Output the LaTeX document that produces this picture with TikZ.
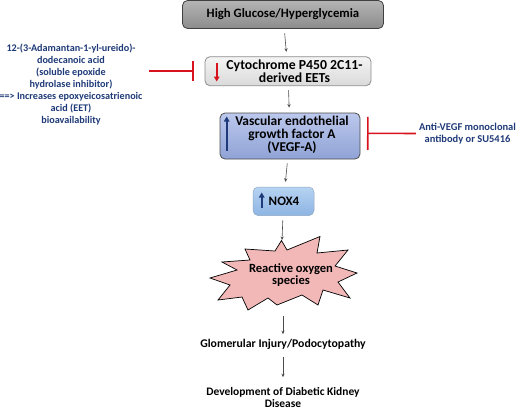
\documentclass[tikz,border=0pt]{standalone}
\usepackage{fontspec}
\setmainfont{Carlito}
\usetikzlibrary{arrows.meta}

\definecolor{navy}{HTML}{1F3A78}
\definecolor{inhred}{HTML}{D7141E}
\definecolor{hgtop}{HTML}{B4B4B4}
\definecolor{hgbot}{HTML}{8C8C8C}
\definecolor{cyttop}{HTML}{F4F4F4}
\definecolor{cytbot}{HTML}{DADADA}
\definecolor{vegftop}{HTML}{BCC8EC}
\definecolor{vegfbot}{HTML}{90A3D6}
\definecolor{noxtop}{HTML}{B6D3F2}
\definecolor{noxbot}{HTML}{8DB4E3}
\definecolor{rosfill}{HTML}{F2B8B8}

\tikzset{
	rbox/.style={rounded corners=5bp, line width=0.8bp},
	flow/.style={draw=black!70, line width=0.6bp, -{Stealth[length=3.5bp,width=3.2bp]}},
	inhib/.style={draw=inhred, line width=1.6bp, -{Bar[width=#1]}},
	updown/.style={line width=1.8bp, -{Triangle[length=5bp,width=5.5bp]}},
	txt/.style={align=center, inner sep=0pt, font=\bfseries\fontsize{#1}{#1}\selectfont}
}

\begin{document}
\begin{tikzpicture}[x=1bp, y=-1bp]
	\useasboundingbox (0,0) rectangle (520,410);

	% boxes
	\node[rbox, draw=black!75, top color=hgtop, bottom color=hgbot, minimum width=201bp, minimum height=28bp,
		txt=12.8] (hg) at (283,14.5) {High Glucose/Hyperglycemia};
	\node[rbox, draw=black!45, top color=cyttop, bottom color=cytbot, minimum width=166bp, minimum height=29bp] (cyt) at (288,71.2) {};
	\node[rbox, draw=black!70, top color=vegftop, bottom color=vegfbot, minimum width=140bp, minimum height=46bp] (vegf) at (290,136) {};
	\node[rbox, draw=noxtop!80!black, line width=0.5bp, top color=noxtop, bottom color=noxbot, minimum width=61bp, minimum height=28.5bp] (nox) at (283.5,201.3) {};

	\node[txt=13.8, font=\bfseries\fontsize{13.8}{13.2}\selectfont] (cytT) at (294.5,71.5) {Cytochrome P450 2C11-\\derived EETs};
	\node[txt=13.5, font=\bfseries\fontsize{13.5}{12.8}\selectfont] (vegfT) at (292,135) {Vascular endothelial\\growth factor A\\(VEGF-A)};
	\node[txt=13] (noxT) at (284,201.5) {NOX4};

	% up / down marks
	\draw[updown, inhred] (216.7,63) -- (216.7,81.5);
	\draw[updown, navy] (226.7,151) -- (226.7,116.5);
	\draw[updown, navy] (261.7,207.5) -- (261.7,192.5);

	% reactive oxygen species
	\draw[draw=black, line width=0.7bp, fill=rosfill, line join=miter]
		(281.5,240.5) -- (287,250) -- (320,236.5) -- (317,253) -- (348,250) -- (335,266)
		-- (357,273) -- (338,282) -- (350,298) -- (323,290) -- (318,305) -- (302,295)
		-- (277,305) -- (268,298) -- (248,310) -- (242,297) -- (218,300) -- (230,285)
		-- (210,278) -- (237,270) -- (222,262) -- (250,260) -- (245,249) -- (275,251) -- cycle;
	\coordinate (rosN) at (282,241);
	\coordinate (rosS) at (283,316);
	\node[txt=12.6] (ros) at (291,275) {Reactive oxygen\\species};

	% outcomes
	\node[txt=11.8] (glom) at (283,344.5) {Glomerular Injury/Podocytopathy};
	\node[txt=11.5, font=\bfseries\fontsize{11.5}{12.2}\selectfont] (dev) at (283,397.5) {Development of Diabetic Kidney\\Disease};

	% inhibitors
	\node[txt=8, text=navy, font=\bfseries\fontsize{10.2}{11.9}\selectfont] (seh) at (71,84.5)
		{12-(3-Adamantan-1-yl-ureido)-\\dodecanoic acid\\(soluble epoxide\\hydrolase inhibitor)\\
		==> Increases epoxyeicosatrienoic\\acid (EET)\\bioavailability};
	\node[txt=8.5, text=navy, font=\bfseries\fontsize{10.5}{11.5}\selectfont] (anti) at (467.5,133.5)
		{Anti-VEGF monoclonal\\antibody or SU5416};
	\coordinate (sehL) at (149,71.2);
	\coordinate (vegfI) at (367,133.3);

	\draw[inhib=20bp, shorten >=11bp] (sehL) -- (sehL -| cyt.west);
	\draw[inhib=33bp, shorten <=3bp] (anti.west) -- (vegfI);

	% flow
	\draw[flow, shorten <=4.5bp, shorten >=4.5bp] (hg) -- (cyt);
	\draw[flow, shorten <=4bp, shorten >=5bp] (cyt) -- (vegf);
	\draw[flow, shorten <=4bp, shorten >=5bp] (vegf) -- (nox);
	\draw[flow, shorten <=4.5bp, shorten >=1bp] (nox) -- (rosN);
	\draw[flow, shorten >=5bp] (rosS) -- (glom);
	\draw[flow, shorten <=7bp, shorten >=10bp] (glom) -- (dev);

\end{tikzpicture}
\end{document}
